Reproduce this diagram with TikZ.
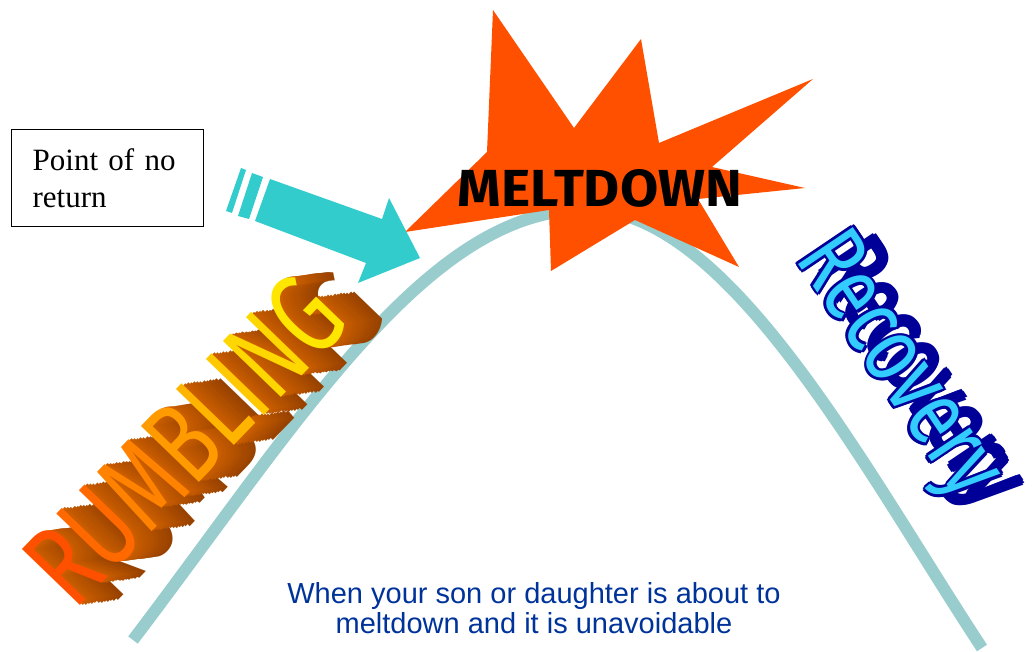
\documentclass[tikz,border=0pt]{standalone}
\usepackage{fontspec}
\usepackage{graphicx}
\setmainfont{Liberation Serif}
\setsansfont{Liberation Sans}
\newfontfamily\wordart{Fira Sans}
\definecolor{hillteal}{RGB}{153,204,204}
\definecolor{pointcyan}{RGB}{51,204,204}
\definecolor{burstred}{RGB}{255,80,0}
\definecolor{capblue}{RGB}{0,51,153}
\definecolor{recfill}{RGB}{51,204,255}
\definecolor{recline}{RGB}{0,0,153}
\definecolor{rumbrown}{RGB}{205,95,0}
\definecolor{rumdark}{RGB}{95,35,0}
\definecolor{rumR}{RGB}{255,80,0}
\definecolor{rumU}{RGB}{255,105,0}
\definecolor{rumM}{RGB}{255,130,0}
\definecolor{rumB}{RGB}{255,155,0}
\definecolor{rumL}{RGB}{255,180,0}
\definecolor{rumI}{RGB}{255,200,0}
\definecolor{rumN}{RGB}{255,215,0}
\definecolor{rumG}{RGB}{255,230,0}
\usetikzlibrary{calc}

% one colour per letter, or one colour for all of them (\rumfix)
\let\rumfix\relax
\newcommand{\rumc}[1]{\ifx\rumfix\relax\color{#1}\else\color{\rumfix}\fi}
\newcommand{\rumword}{\resizebox{400pt}{82pt}{\rumc{rumR}R\rumc{rumU}U\rumc{rumM}M\rumc{rumB}B\rumc{rumL}L\rumc{rumI}I\rumc{rumN}N\rumc{rumG}G}}
\newcommand{\recword}{\resizebox{295pt}{66pt}{Recovery}}

\begin{document}
\begin{tikzpicture}[x=1pt, y=-1pt,
    hill/.style={hillteal, line width=12pt},
    burst/.style={fill=burstred},
    pointer/.style={fill=pointcyan},
    notebox/.style={draw, line width=1.3pt, anchor=north west, text width=150pt,
                    inner xsep=21pt, inner ysep=0pt, minimum height=97pt, align=left,
                    font=\fontsize{31}{37}\selectfont},
    rumtext/.style={rotate=46, inner sep=0pt, font=\wordart},
    rectext/.style={rotate=-56, inner sep=0pt, font=\wordart},
    caption/.style={font=\sffamily\fontsize{29}{30}\selectfont, text=capblue,
                    align=center, inner sep=0pt, anchor=north}
  ]
  \useasboundingbox (0,0) rectangle (1034,652);

  % the curve
  \draw[hill] (133,640) .. controls (300,420) and (430,205) .. (590,210)
    .. controls (730,212) and (865,470) .. (982,648);

  % meltdown burst
  \fill[burst] (493,10) -- (574,128) -- (641,39) -- (659,143) -- (813,79)
    -- (712,167) -- (805,188) -- (698,199) -- (739,267) -- (635,220)
    -- (551,271) -- (549,210) -- (405,232) -- (487,152) -- cycle;
  \node[font=\wordart\bfseries, inner sep=0pt] (melt) at (600,188)
    {\resizebox{284pt}{37pt}{MELTDOWN}};

  % striped arrow
  \fill[pointer] (270,179) -- (382,219) -- (389,198) -- (420,258) -- (358,283)
    -- (366,263) -- (255,221) -- cycle;
  \fill[pointer] (252,173) -- (263,177) -- (249,219) -- (238,216) -- cycle;
  \fill[pointer] (241,168) -- (246,170) -- (232,213) -- (226,211) -- cycle;

  \node[notebox] (noreturn) at (11,129) {Point of no\\return};

  % RUMBLING, extruded
  \foreach \k in {12,...,1}{
    \pgfmathtruncatemacro\extshade{100-4*\k}
    \node[rumtext, shift={(2.5*\k,2*\k)}] (rumble\k) at (184,440)
      {\def\rumfix{rumbrown!\extshade!rumdark}\rumword};
  }
  \node[rumtext] (rumble) at (184,440) {\rumword};

  % Recovery, shadow + outlined face
  \foreach \a in {0,60,...,300}
    \node[rectext, text=recline, shift={($(19,-13)+(\a:2.5)$)}] (recshade\a) at (896,368) {\recword};
  \foreach \a in {0,45,...,315}
    \node[rectext, text=recline, shift={(\a:2.8)}] (recring\a) at (896,368) {\recword};
  \node[rectext, text=recfill] (recov) at (896,368) {\recword};

  \node[caption] (note) at (534,582)
    {When your son or daughter is about to\\meltdown and it is unavoidable};
\end{tikzpicture}
\end{document}
